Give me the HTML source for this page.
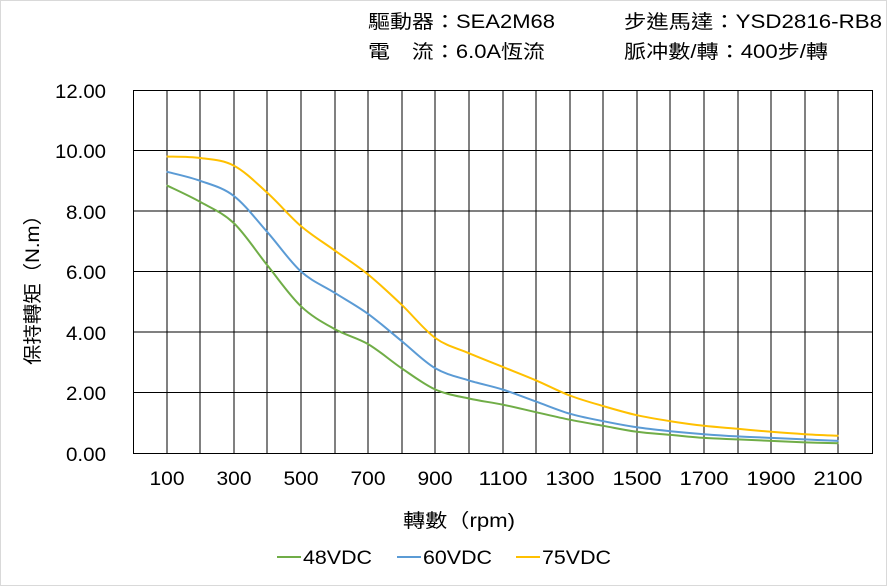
<!DOCTYPE html>
<html><head><meta charset="utf-8"><style>
body{margin:0;background:#fff}
svg{display:block}
text{font-family:"Liberation Sans","Noto Sans CJK TC",sans-serif;fill:#000}
</style></head><body>
<svg id="s" width="888" height="586" viewBox="0 0 888 586" xmlns="http://www.w3.org/2000/svg">
<rect x="0.5" y="0.5" width="886" height="585" fill="#fff" stroke="#d9d9d9"/>
<g font-size="19" lengthAdjust="spacingAndGlyphs">
<text x="368" y="28" textLength="187" lengthAdjust="spacingAndGlyphs">驅動器：SEA2M68</text>
<text x="624" y="28" textLength="258" lengthAdjust="spacingAndGlyphs">步進馬達：YSD2816-RB8</text>
<text x="368" y="58" textLength="177" lengthAdjust="spacingAndGlyphs">電　流：6.0A恆流</text>
<text x="624" y="58" textLength="204" lengthAdjust="spacingAndGlyphs">脈冲數/轉：400步/轉</text>
</g>
<g stroke="#000" stroke-width="1" fill="none">
<rect x="133.5" y="90.5" width="739" height="363"/>
<path d="M133 150.5H872M133 211H872M133 271.5H872M133 332H872M133 392.5H872"/>
<path d="M167 90V453M200 90V453M234 90V453M267 90V453M301 90V453M335 90V453M368 90V453M402 90V453M435 90V453M469 90V453M503 90V453M536 90V453M570 90V453M603 90V453M637 90V453M670 90V453M704 90V453M738 90V453M771 90V453M805 90V453M838 90V453"/>
</g>
<g font-size="19" text-anchor="end">
<text x="106" y="98" textLength="51" lengthAdjust="spacingAndGlyphs">12.00</text>
<text x="106" y="158" textLength="51" lengthAdjust="spacingAndGlyphs">10.00</text>
<text x="106" y="219" textLength="40" lengthAdjust="spacingAndGlyphs">8.00</text>
<text x="106" y="279" textLength="40" lengthAdjust="spacingAndGlyphs">6.00</text>
<text x="106" y="340" textLength="40" lengthAdjust="spacingAndGlyphs">4.00</text>
<text x="106" y="400" textLength="40" lengthAdjust="spacingAndGlyphs">2.00</text>
<text x="106" y="461" textLength="40" lengthAdjust="spacingAndGlyphs">0.00</text>
</g>
<g font-size="19" text-anchor="middle">
<text x="167" y="485" textLength="35" lengthAdjust="spacingAndGlyphs">100</text>
<text x="234" y="485" textLength="35" lengthAdjust="spacingAndGlyphs">300</text>
<text x="301" y="485" textLength="35" lengthAdjust="spacingAndGlyphs">500</text>
<text x="368" y="485" textLength="35" lengthAdjust="spacingAndGlyphs">700</text>
<text x="435" y="485" textLength="35" lengthAdjust="spacingAndGlyphs">900</text>
<text x="503" y="485" textLength="49" lengthAdjust="spacingAndGlyphs">1100</text>
<text x="570" y="485" textLength="49" lengthAdjust="spacingAndGlyphs">1300</text>
<text x="637" y="485" textLength="49" lengthAdjust="spacingAndGlyphs">1500</text>
<text x="704" y="485" textLength="49" lengthAdjust="spacingAndGlyphs">1700</text>
<text x="771" y="485" textLength="49" lengthAdjust="spacingAndGlyphs">1900</text>
<text x="838" y="485" textLength="49" lengthAdjust="spacingAndGlyphs">2100</text>
<text x="459" y="527" textLength="112" lengthAdjust="spacingAndGlyphs">轉數（rpm)</text>
</g>
<text font-size="19" text-anchor="middle" transform="translate(39,285) rotate(-90)" textLength="160" lengthAdjust="spacingAndGlyphs">保持轉矩（N.m）</text>
<g id="curves" fill="none" stroke-width="2" stroke-linejoin="round">
<line x1="277" y1="557" x2="301" y2="557" stroke="#70ad47"/>
<line x1="397" y1="557" x2="421" y2="557" stroke="#5b9bd5"/>
<line x1="516" y1="557" x2="540" y2="557" stroke="#ffc000"/>
</g>
<g font-size="19">
<text x="303" y="564" textLength="69" lengthAdjust="spacingAndGlyphs">48VDC</text>
<text x="423" y="564" textLength="69" lengthAdjust="spacingAndGlyphs">60VDC</text>
<text x="542" y="564" textLength="69" lengthAdjust="spacingAndGlyphs">75VDC</text>
</g>
</svg>
<script>
var xs=[166.6,200.2,233.8,267.4,301,334.5,368.1,401.7,435.3,468.9,502.5,536.1,569.7,603.3,636.9,670.4,704,737.6,771.2,804.8,838.4];
var S={"#70ad47":[185.3,201.9,223.1,265.4,306.3,329,344.1,368.3,389.5,398.5,404.6,412.2,419.7,425.8,431.8,434.9,437.9,439.4,440.9,442.4,443.3],
"#5b9bd5":[171.7,180.8,195.9,232.2,271.5,292.7,313.9,341.1,368.3,380.4,389.5,401.6,413.7,421.2,427.3,431.2,434.2,436.4,437.9,439.4,440.9],
"#ffc000":[156.5,158,165.6,192.9,226.1,250.3,274.5,304.8,338,353.2,366.8,380.4,395.5,406.1,415.2,421.2,425.8,428.8,431.8,434.2,435.8]};
var g=document.getElementById('curves');
for(var c in S){var y=S[c],d='M'+xs[0]+','+y[0];
for(var i=0;i<xs.length-1;i++){var p0=i?i-1:0,p3=i+2<xs.length?i+2:i+1;
var c1x=xs[i]+(xs[i+1]-xs[p0])/6,c1y=y[i]+(y[i+1]-y[p0])/6,c2x=xs[i+1]-(xs[p3]-xs[i])/6,c2y=y[i+1]-(y[p3]-y[i])/6;
d+=' C'+c1x+','+c1y+' '+c2x+','+c2y+' '+xs[i+1]+','+y[i+1];}
var p=document.createElementNS('http://www.w3.org/2000/svg','path');p.setAttribute('d',d);p.setAttribute('stroke',c);g.appendChild(p);}
</script>
</body></html>
